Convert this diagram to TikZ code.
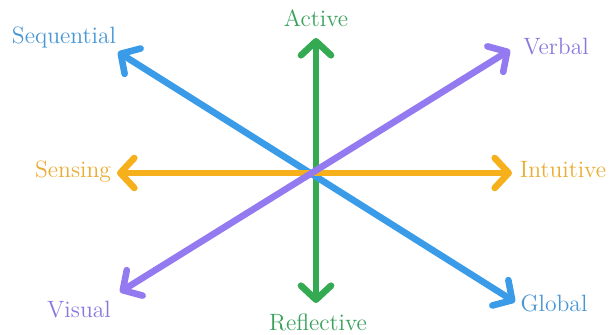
\documentclass[tikz,border=0pt]{standalone}
\usetikzlibrary{arrows.meta}
\definecolor{axblue}{RGB}{58,156,232}
\definecolor{axgreen}{RGB}{52,170,82}
\definecolor{axorange}{RGB}{246,176,28}
\definecolor{axpurple}{RGB}{148,122,240}
\definecolor{txblue}{RGB}{72,150,212}
\definecolor{txgreen}{RGB}{58,162,92}
\definecolor{txorange}{RGB}{234,172,50}
\definecolor{txpurple}{RGB}{138,120,222}
\tikzset{
  axis/.style={line width=3.3pt, line cap=round,
    {Straight Barb[length=7pt,width=15pt,line cap=round,line join=round]}-{Straight Barb[length=7pt,width=15pt,line cap=round,line join=round]}},
  pole/.style={inner sep=0pt, font=\fontsize{11.8}{13}\selectfont}
}

\begin{document}
\begin{tikzpicture}[x=0.5pt, y=-0.5pt]
  \useasboundingbox (0,0) rectangle (615,335);

  % arrow tips
  \coordinate (actTip) at (316,38);
  \coordinate (refTip) at (316,303);
  \coordinate (senTip) at (117,173);
  \coordinate (intTip) at (512,173);
  \coordinate (seqTip) at (118,52);
  \coordinate (gloTip) at (515,302);
  \coordinate (verTip) at (510,50);
  \coordinate (visTip) at (120,292);

  % labels
  \node[pole, text=txgreen] (active) at (316,18) {Active};
  \node[pole, text=txgreen] (reflective) at (318,322) {Reflective};
  \node[pole, text=txorange] (sensing) at (73,172) {Sensing};
  \node[pole, text=txorange] (intuitive) at (563,170) {Intuitive};
  \node[pole, text=txblue] (sequential) at (64,37) {Sequential};
  \node[pole, text=txblue] (global) at (554,303) {Global};
  \node[pole, text=txpurple] (verbal) at (556,47) {Verbal};
  \node[pole, text=txpurple] (visual) at (79,310) {Visual};

  % axes
  \draw[axis, axgreen] (actTip) -- (refTip);
  \draw[axis, axblue] (seqTip) -- (gloTip);
  \draw[axis, axorange] (senTip) -- (intTip);
  \draw[axis, axpurple] (visTip) -- (verTip);
\end{tikzpicture}
\end{document}
